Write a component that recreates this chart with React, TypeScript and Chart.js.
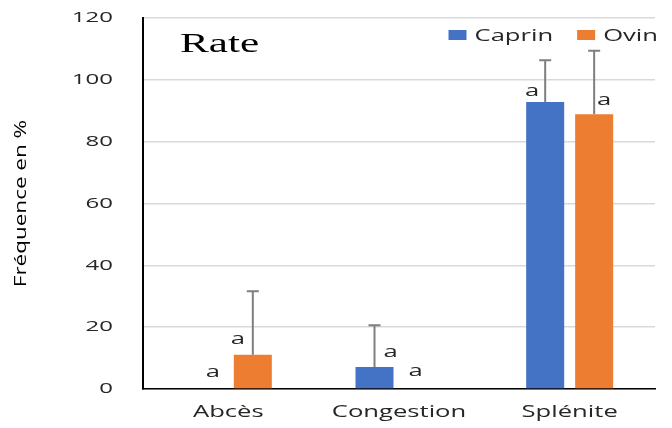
import { useEffect, useRef } from 'react';
import { Chart, registerables } from 'chart.js';

Chart.register(...registerables);

// Lesion categories and series
const categories = ['Abcès', 'Congestion', 'Splénite'];
const seriesNames = ['Caprin', 'Ovin'];

// Frequencies (%) per category
const caprinValues = [0, 7.14, 92.86];
const ovinValues = [11.11, 0, 88.89];

// Upper error (percentage points)
const caprinErrors = [0, 13.5, 13.5];
const ovinErrors = [20.5, 0, 20.5];

// Significance letters above each bar
const caprinLetters = ['a', 'a', 'a'];
const ovinLetters = ['a', 'a', 'a'];

// Y axis ticks
const yTicks = [0, 20, 40, 60, 80, 100, 120];

const chartTitle = 'Rate';
const yAxisTitle = 'Fréquence en %';

const seriesColors = ['#4472C4', '#ED7D31'];
const FONT = "'Open Sans', 'DejaVu Sans', sans-serif";
const TEXT_STRETCH = 1.6;
const ROTATED_STRETCH = 1.45;

// Offsets [dx, dy] of each letter from the top-centre of its bar
const letterNudge = [
  [[9, -17], [16, -14], [-13, -10]],
  [[-15, -15], [-8, -18], [10, -14]],
];

// Text is drawn horizontally widened along its own baseline
function widenText(ctx: CanvasRenderingContext2D) {
  const rawFill = ctx.fillText.bind(ctx);
  (ctx as any).fillText = (text: string, x: number, y: number) => {
    const t = ctx.getTransform();
    const s = Math.abs(t.b) > 1e-6 ? ROTATED_STRETCH : TEXT_STRETCH;
    ctx.save();
    ctx.translate(x, y);
    ctx.scale(s, 1);
    rawFill(text, 0, 0);
    ctx.restore();
  };
}

const errorBarsPlugin = {
  id: 'errorBars',
  afterDatasetsDraw(chart: any) {
    const { ctx } = chart;
    const yScale = chart.scales.y;
    const errs = [caprinErrors, ovinErrors];
    ctx.save();
    ctx.strokeStyle = '#7f7f7f';
    ctx.lineWidth = 2;
    chart.data.datasets.forEach((ds: any, i: number) => {
      const meta = chart.getDatasetMeta(i);
      meta.data.forEach((el: any, j: number) => {
        const e = errs[i][j];
        if (!e) return;
        const top = yScale.getPixelForValue(ds.data[j] + e);
        ctx.beginPath();
        ctx.moveTo(el.x, el.y);
        ctx.lineTo(el.x, top);
        ctx.moveTo(el.x - 6, top);
        ctx.lineTo(el.x + 6, top);
        ctx.stroke();
      });
    });
    ctx.restore();
  },
};

const lettersPlugin = {
  id: 'letters',
  afterDatasetsDraw(chart: any) {
    const { ctx } = chart;
    const letters = [caprinLetters, ovinLetters];
    ctx.save();
    ctx.font = `16px ${FONT}`;
    ctx.fillStyle = '#262626';
    ctx.textAlign = 'center';
    ctx.textBaseline = 'middle';
    chart.data.datasets.forEach((_ds: any, i: number) => {
      const meta = chart.getDatasetMeta(i);
      meta.data.forEach((el: any, j: number) => {
        const [dx, dy] = letterNudge[i][j];
        ctx.fillText(letters[i][j], el.x + dx, el.y + dy);
      });
    });
    ctx.restore();
  },
};

const overlayPlugin = {
  id: 'overlay',
  afterDraw(chart: any) {
    const { ctx, chartArea } = chart;
    ctx.save();
    // Title inside the plot, top left
    ctx.font = `27px 'Liberation Serif', 'Times New Roman', serif`;
    ctx.fillStyle = '#000';
    ctx.textAlign = 'left';
    ctx.textBaseline = 'alphabetic';
    ctx.fillText(chartTitle, chartArea.left + 37, chartArea.top + 34);

    // Legend inside the plot, top right
    ctx.font = `16px ${FONT}`;
    ctx.textBaseline = 'middle';
    const boxW = 18;
    const boxH = 10;
    const gapText = 8;
    const gapItem = 24;
    const cy = chartArea.top + 17;
    const widths = chart.data.datasets.map(
      (ds: any) => ctx.measureText(ds.label).width * TEXT_STRETCH
    );
    let total = 0;
    widths.forEach((w: number, i: number) => {
      total += boxW + gapText + w + (i < widths.length - 1 ? gapItem : 0);
    });
    let x = chartArea.right + 3 - total;
    chart.data.datasets.forEach((ds: any, i: number) => {
      ctx.fillStyle = ds.backgroundColor;
      ctx.fillRect(x, cy - boxH / 2, boxW, boxH);
      x += boxW + gapText;
      ctx.fillStyle = '#262626';
      ctx.fillText(ds.label, x, cy + 1);
      x += widths[i] + gapItem;
    });
    ctx.restore();
  },
};

export default function App() {
  const canvasRef = useRef<HTMLCanvasElement | null>(null);

  useEffect(() => {
    const canvas = canvasRef.current;
    if (!canvas) return;
    const ctx = canvas.getContext('2d')!;
    widenText(ctx);

    const chart = new Chart(canvas, {
      type: 'bar',
      data: {
        labels: categories,
        datasets: [
          {
            label: seriesNames[0],
            data: caprinValues,
            backgroundColor: seriesColors[0],
            categoryPercentage: 0.574,
            barPercentage: 0.776,
          },
          {
            label: seriesNames[1],
            data: ovinValues,
            backgroundColor: seriesColors[1],
            categoryPercentage: 0.574,
            barPercentage: 0.776,
          },
        ],
      },
      options: {
        responsive: false,
        animation: false,
        devicePixelRatio: 1,
        layout: { padding: { top: 18, right: 17, left: 0, bottom: 0 } },
        plugins: {
          legend: { display: false },
          title: { display: false },
          tooltip: { enabled: false },
        },
        scales: {
          x: {
            grid: { display: false, drawTicks: false },
            border: { display: true, color: '#000', width: 1.5 },
            ticks: {
              color: '#262626',
              font: { family: FONT, size: 16 },
              padding: 14,
              maxRotation: 0,
              autoSkip: false,
            },
            afterFit: (s: any) => {
              s.height = 39;
            },
          },
          y: {
            min: yTicks[0],
            max: yTicks[yTicks.length - 1],
            grid: { color: '#d9d9d9', lineWidth: 1.5, drawTicks: false },
            border: { display: true, color: '#000', width: 2 },
            ticks: {
              stepSize: yTicks[1] - yTicks[0],
              color: '#262626',
              font: { family: FONT, size: 15 },
              padding: 30,
            },
            title: {
              display: true,
              text: yAxisTitle,
              color: '#000',
              font: { family: FONT, size: 15.5 },
              padding: { top: 12, bottom: 0 },
            },
            afterFit: (s: any) => {
              s.width = 143;
              s.paddingTop = 0;
              s.paddingBottom = 0;
            },
          },
        },
      },
      plugins: [errorBarsPlugin, lettersPlugin, overlayPlugin],
    });

    return () => chart.destroy();
  }, []);

  return (
    <div
      style={{
        position: 'fixed',
        left: 0,
        top: 0,
        width: 672,
        height: 428,
        background: '#fff',
      }}
    >
      <canvas ref={canvasRef} width={672} height={428} style={{ display: 'block' }} />
    </div>
  );
}
